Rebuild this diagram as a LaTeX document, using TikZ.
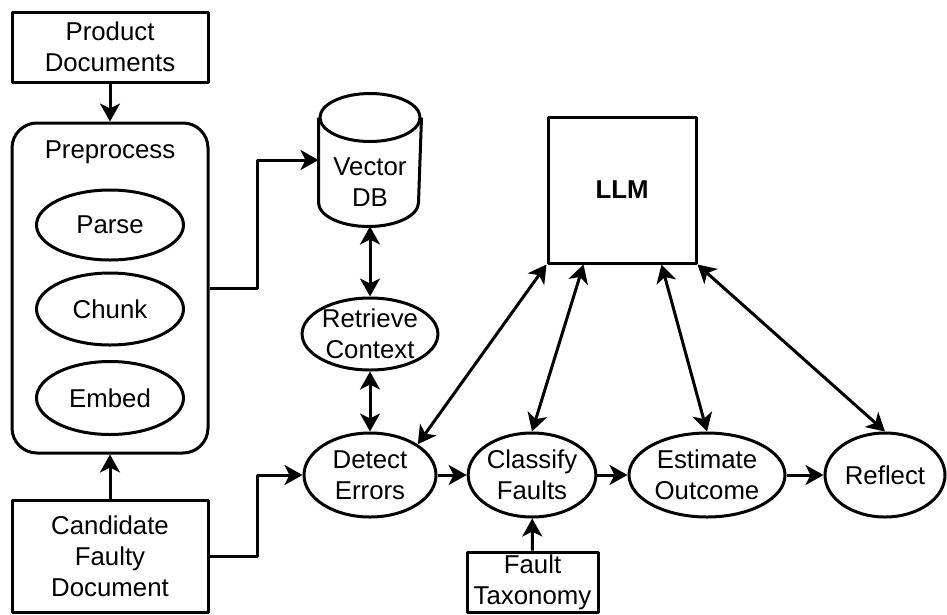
\documentclass[tikz,border=0pt]{standalone}
\usepackage{fontspec}
\setmainfont{Liberation Sans}
\usetikzlibrary{arrows.meta,shapes.geometric,calc}

\begin{document}
\begin{tikzpicture}[x=1pt,y=-1pt,
  line width=3pt, line join=round,
  font=\fontsize{25.8}{31}\selectfont,
  >={Stealth[length=18pt,width=20pt,inset=5pt]},
  box/.style={draw, rectangle, inner sep=0pt, align=center},
  oval/.style={draw, ellipse, inner sep=0pt, align=center},
  flow/.style={->},
  twoway/.style={<->}]

\useasboundingbox (0,0) rectangle (947,614);

% sources and preprocessing column
\node[box, minimum width=196pt, minimum height=70pt] (prod) at (110,47) {Product\\Documents};
\node[box, rounded corners=25pt, minimum width=196pt, minimum height=330pt] (pre) at (110,288) {};
\node (prelbl) at (110,152) {Preprocess};
\node[oval, minimum width=147pt, minimum height=70pt] (parse) at (110,225) {Parse};
\node[oval, minimum width=147pt, minimum height=72pt] (chunk) at (110,309) {Chunk};
\node[oval, minimum width=147pt, minimum height=73pt] (embed) at (110,398) {Embed};
\node[box, minimum width=196pt, minimum height=112pt] (cand) at (110,556) {Candidate\\Faulty\\Document};

% vector store drawn as a cylinder
\node[minimum width=100pt, minimum height=130pt, inner sep=0pt] (vdb) at (370,160) {};
\draw ($(vdb.north west)+(0,24)$) -- ($(vdb.south west)+(0,-24)$)
      arc[start angle=180, end angle=360, x radius=50pt, y radius=24pt]
      -- ($(vdb.north east)+(0,24)$);
\draw ($(vdb.north)+(0,24)$) ellipse[x radius=50pt, y radius=24pt];
\node[align=center] (vdbtxt) at (370,182) {Vector\\DB};

% pipeline stages
\node[oval, minimum width=134pt, minimum height=72pt] (ret) at (370,334) {Retrieve\\Context};
\node[oval, minimum width=132pt, minimum height=84pt] (det) at (370,475) {Detect\\Errors};
\node[oval, minimum width=115pt, minimum height=84pt] (cls) at (532,475) {Classify\\Faults};
\node[oval, minimum width=156pt, minimum height=84pt] (est) at (707,475) {Estimate\\Outcome};
\node[oval, minimum width=120pt, minimum height=84pt] (ref) at (885,475) {Reflect};
\node[box, minimum width=131pt, minimum height=60pt] (tax) at (532.5,582) {Fault\\Taxonomy};

% language model
\node[box, minimum width=148pt, minimum height=146pt] (llm) at (622,190) {\bfseries LLM};

% connectors
\draw[flow] (prod) -- (pre);
\draw[flow] (cand) -- (pre);
\draw[flow] (pre.east) -- ++(48,0) |- (vdb.west);
\draw[flow] (cand.east) -- ++(48,0) |- (det.west);
\draw[twoway] (vdb.south) -- (ret.north);
\draw[twoway] (ret.south) -- (det.north);
\draw[flow] (det) -- (cls);
\draw[flow] (cls) -- (est);
\draw[flow] (est) -- (ref);
\draw[flow] (tax) -- (cls);
\draw[twoway] (llm.south west) -- (det.north east);
\draw[twoway] ([xshift=37pt]llm.south west) -- (cls.north);
\draw[twoway] ([xshift=-36pt]llm.south east) -- (est.north);
\draw[twoway] (llm.south east) -- (ref.north);
\end{tikzpicture}
\end{document}
